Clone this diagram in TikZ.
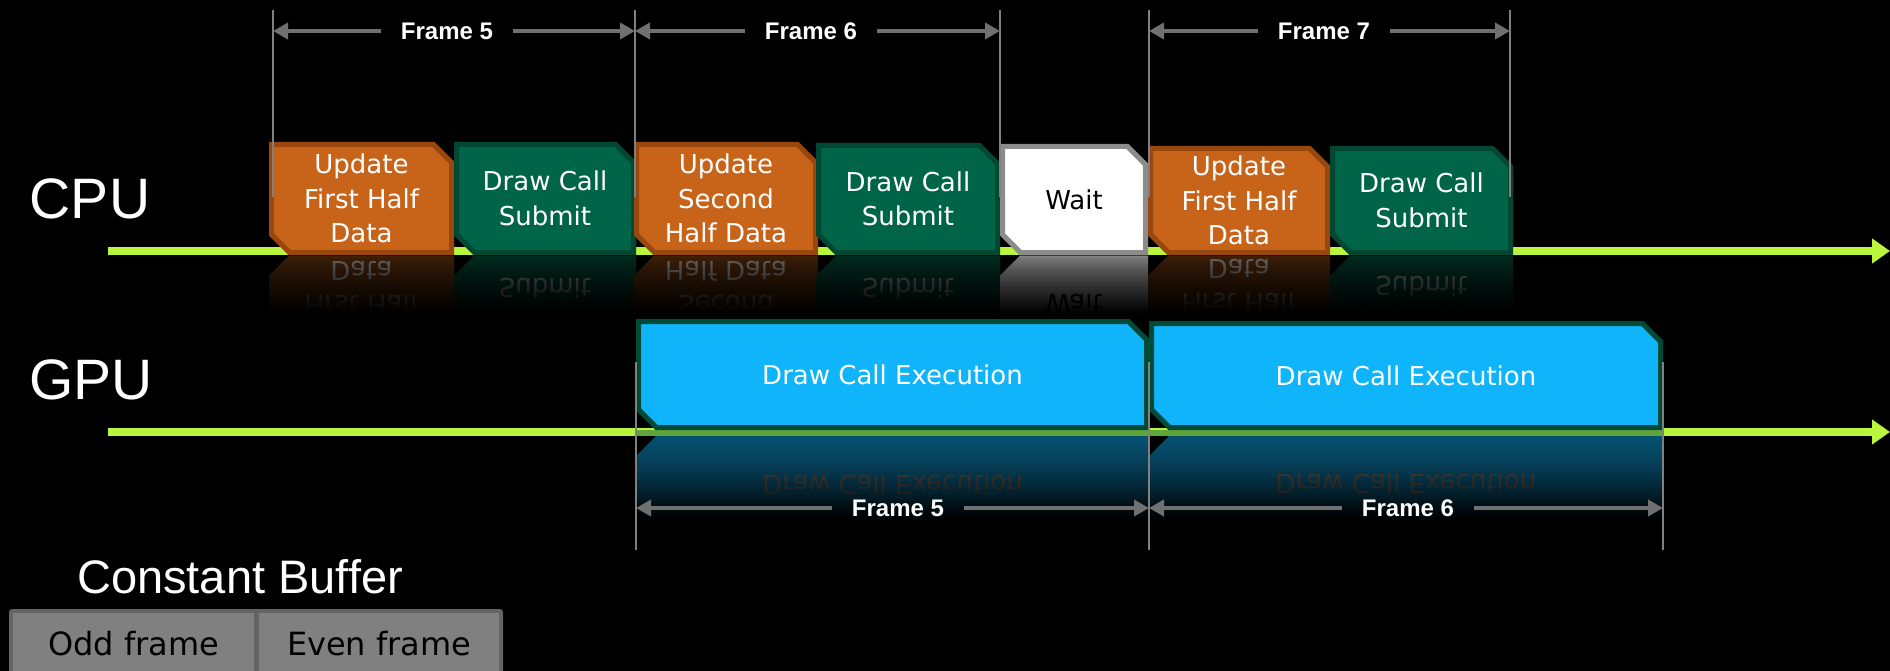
\documentclass[tikz,border=0pt]{standalone}
\usepackage{fontspec}
\setmainfont{DejaVu Sans}
\newfontfamily\arialf{Liberation Sans}
\usetikzlibrary{arrows.meta}
\definecolor{orF}{RGB}{200,100,26}
\definecolor{orB}{RGB}{152,72,14}
\definecolor{orT}{RGB}{255,255,255}
\colorlet{orR}{orF!34!black}
\colorlet{orRT}{white!45!black}
\definecolor{gnF}{RGB}{0,100,72}
\definecolor{gnB}{RGB}{0,72,50}
\definecolor{gnT}{RGB}{255,255,255}
\colorlet{gnR}{gnF!48!black}
\colorlet{gnRT}{white!42!black}
\definecolor{wtF}{RGB}{255,255,255}
\definecolor{wtB}{RGB}{140,140,140}
\definecolor{wtT}{RGB}{0,0,0}
\colorlet{wtR}{white!55!black}
\colorlet{wtRT}{black}
\definecolor{buF}{RGB}{15,180,250}
\definecolor{buB}{RGB}{0,75,55}
\definecolor{buT}{RGB}{255,255,255}
\colorlet{buR}{buF!45!black}
\definecolor{buRT}{RGB}{88,78,68}
\definecolor{lime}{RGB}{185,245,60}
\definecolor{limeD}{RGB}{95,165,58}
\definecolor{frgray}{RGB}{112,112,112}
\definecolor{vlgray}{RGB}{128,128,128}
\definecolor{bufB}{RGB}{100,100,100}
\definecolor{bufF}{RGB}{128,128,128}

% #1 name, #2 x1, #3 x2, #4 ytop, #5 colour prefix, #6 text
\newcommand\cpubox[6]{%
  \path[fill=#5F,draw=#5B,line width=5pt] ({#2+2.5},{#4+2.5}) -- ({#3-2.5-18},{#4+2.5}) -- ({#3-2.5},{#4+2.5+18}) -- ({#3-2.5},252.5) -- ({#2+2.5+18},252.5) -- ({#2+2.5},{252.5-18}) -- cycle;
  \node[boxtext,text=#5T] (#1) at ({(#2+#3)/2},{(#4+255)/2}) {#6};
  \fill[fill=#5R] ({#2+20},255.5) -- (#3,255.5) -- (#3,314) -- (#2,314) -- (#2,275.5) -- cycle;
  \begin{scope}
    \clip (#2,255.5) rectangle (#3,314);
    \begin{scope}[shift={({(#2+#3)/2},{2*252-(#4+255)/2})},yscale=-1]
      \node[boxtext,transform shape,text=#5RT] (#1r) at (0,0) {#6};
    \end{scope}
  \end{scope}}

% #1 name, #2 x1, #3 x2, #4 ytop, #5 text
\newcommand\gpubox[5]{%
  \path[fill=buF,draw=buB,line width=5pt] ({#2+2.5},{#4+2.5}) -- ({#3-2.5-18},{#4+2.5}) -- ({#3-2.5},{#4+2.5+18}) -- ({#3-2.5},427.5) -- ({#2+2.5+18},427.5) -- ({#2+2.5},{427.5-18}) -- cycle;
  \node[boxtext,text=buT] (#1) at ({(#2+#3)/2},{(#4+430)/2}) {#5};
  \fill[fill=buR] ({#2+20},436) -- (#3,436) -- (#3,518) -- (#2,518) -- (#2,456) -- cycle;
  \begin{scope}
    \clip (#2,436) rectangle (#3,518);
    \begin{scope}[shift={({(#2+#3)/2},{2*430-(#4+430)/2})},yscale=-1]
      \node[boxtext,transform shape,text=buRT] (#1r) at (0,0) {#5};
    \end{scope}
  \end{scope}}

% fading of a reflection: #1 x1, #2 x2, #3 ystart, #4 yend, #5 exponent
\newcommand\fadeband[5]{%
  \foreach \i in {0,...,47}{%
    \pgfmathsetmacro\op{min(1,((\i+1)/48)^#5)}%
    \fill[black,fill opacity=\op] (#1,{#3+(#4-#3)*\i/48}) rectangle (#2,{#3+(#4-#3)*(\i+1)/48});}}

\begin{document}
\begin{tikzpicture}[x=1pt,y=-1pt,
  vline/.style={draw=vlgray,line width=1.8pt},
  farrow/.style={draw=frgray,line width=4pt,-{Triangle[length=15pt,width=16pt]}},
  flabel/.style={text=white,font=\arialf\bfseries\fontsize{24}{28}\selectfont,inner xsep=20pt,inner ysep=0pt},
  limeline/.style={draw=lime,line width=8pt,-{Triangle[length=18pt,width=24pt]}},
  boxtext/.style={align=center,font=\fontsize{26}{34.5}\selectfont,inner sep=0pt},
  biglabel/.style={text=white,font=\arialf\fontsize{57}{60}\selectfont,inner sep=0pt},
  cell/.style={fill=bufF,text=black,font=\fontsize{32}{36}\selectfont,minimum width=241pt,minimum height=60pt,inner sep=0pt,anchor=north west}]

\useasboundingbox (0,0) rectangle (1890,671);
\fill[black] (0,0) rectangle (1890,671);

% time lines
\coordinate (cpuS) at (108,251);
\coordinate (cpuE) at (1890,251);
\coordinate (gpuS) at (108,432);
\coordinate (gpuE) at (1890,432);
\draw[limeline] (cpuS) -- (cpuE);
\draw[limeline] (gpuS) -- (gpuE);

% CPU boxes
\cpubox{u1}{269}{454}{142}{or}{Update\\First Half\\Data}
\cpubox{d1}{454}{636}{142}{gn}{Draw Call\\Submit}
\cpubox{u2}{634}{818}{142}{or}{Update\\Second\\Half Data}
\cpubox{d2}{816}{1000}{143}{gn}{Draw Call\\Submit}
\cpubox{w}{1000}{1148}{144}{wt}{Wait}
\cpubox{u3}{1148}{1330}{146}{or}{Update\\First Half\\Data}
\cpubox{d3}{1330}{1513}{146}{gn}{Draw Call\\Submit}

% GPU boxes
\fill[limeD] (636,430) rectangle (1663,436);
\gpubox{e1}{636}{1149}{319}{Draw Call Execution}
\gpubox{e2}{1149}{1663}{321}{Draw Call Execution}

% reflections fade out
\fadeband{265}{1515}{255.5}{314.5}{0.7}
\fadeband{634}{1665}{436}{518.5}{1.4}

% frame guides, top
\foreach \n/\x in {1/273,2/635,3/1000,4/1149,5/1510}{%
  \coordinate (a\n t) at (\x,10);
  \coordinate (a\n b) at (\x,197);}
\foreach \n in {1,...,5}{\draw[vline] (a\n t) -- (a\n b);}
\node[flabel] (tf5) at (447,31) {Frame 5};
\node[flabel] (tf6) at (811,31) {Frame 6};
\node[flabel] (tf7) at (1324,31) {Frame 7};
\draw[farrow] (tf5.west) -- (tf5.west -| a1t);
\draw[farrow] (tf5.east) -- (tf5.east -| a2t);
\draw[farrow] (tf6.west) -- (tf6.west -| a2t);
\draw[farrow] (tf6.east) -- (tf6.east -| a3t);
\draw[farrow] (tf7.west) -- (tf7.west -| a4t);
\draw[farrow] (tf7.east) -- (tf7.east -| a5t);

% frame guides, bottom
\foreach \n/\x in {1/636,2/1149,3/1663}{%
  \coordinate (g\n t) at (\x,362);
  \coordinate (g\n b) at (\x,550);}
\foreach \n in {1,2,3}{\draw[vline] (g\n t) -- (g\n b);}
\node[flabel] (bf5) at (898,508) {Frame 5};
\node[flabel] (bf6) at (1408,508) {Frame 6};
\draw[farrow] (bf5.west) -- (bf5.west -| g1t);
\draw[farrow] (bf5.east) -- (bf5.east -| g2t);
\draw[farrow] (bf6.west) -- (bf6.west -| g2t);
\draw[farrow] (bf6.east) -- (bf6.east -| g3t);

% labels
\node[biglabel] (cpu) at (90,199) {CPU};
\node[biglabel] (gpu) at (91,380) {GPU};
\node[text=white,font=\arialf\fontsize{47}{50}\selectfont,inner sep=0pt,anchor=base] (cb) at (240,593) {Constant Buffer};

% constant buffer
\fill[bufB,rounded corners=3pt] (9,609) rectangle (503,690);
\node[cell] (odd) at (13,613) {Odd frame};
\node[cell,minimum width=240pt] (even) at (259,613) {Even frame};
\end{tikzpicture}
\end{document}
